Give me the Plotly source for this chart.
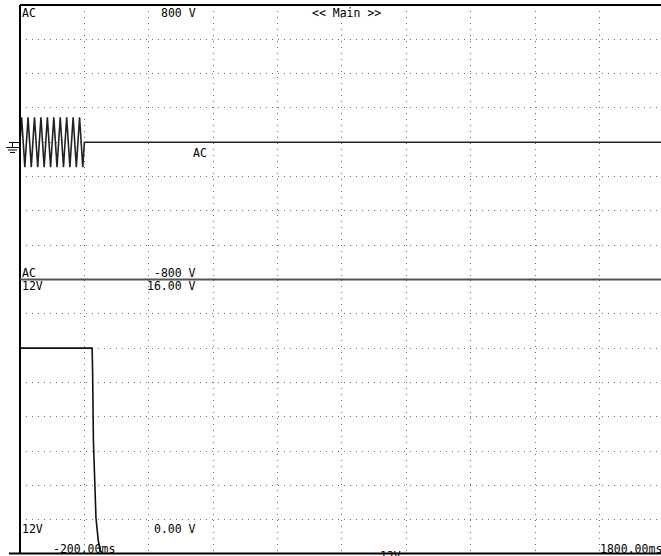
import plotly.graph_objects as go

# ---------------- data ----------------
# Channel 1 (AC, -800..800 V), time in ms
ac_time = [-200, -195, -190, -185, -180, -175, -170, -165, -160, -155,
           -150, -145, -140, -135, -130, -125, -120, -115, -110, -105,
           -100, -95, -90, -85, -80, -75, -70, -65, -60, -55,
           -50, -45, -40, -35, -30, -25, -20, -15, -10, -5,
           0, 1800]
ac_volts = [0, 145, 0, -145, 0, 145, 0, -145, 0, 145,
            0, -145, 0, 145, 0, -145, 0, 145, 0, -145,
            0, 145, 0, -145, 0, 145, 0, -145, 0, 145,
            0, -145, 0, 145, 0, -145, 0, 145, 0, -145,
            0, 0]

# Channel 2 (12V, 0..16 V)
v12_time = [-200, 24, 25.5, 28, 36, 43, 49, 58, 1800]
v12_volts = [12, 12, 10.7, 6.6, 2.1, 0.8, 0.2, 0, 0]

x_range = [-200, 1791]
top_range = [-800, 800]
bot_range = [0, 16]

# ---------------- layout helpers ----------------
W, H = 661, 556
L, R, T, B = 20, 0, 5, 2
PW, PH = W - L - R, H - T - B


def px(x):
    return (x - L) / PW


def py(y):
    return (H - B - y) / PH


FONT = dict(family="DejaVu Sans Mono, Liberation Mono, monospace", size=11.5, color="#000000")
GRID = "#6e6e6e"

fig = go.Figure()
fig.add_trace(go.Scatter(x=ac_time, y=ac_volts, mode="lines",
                         line=dict(color="#222222", width=1.6),
                         xaxis="x", yaxis="y", showlegend=False, hoverinfo="skip"))
fig.add_trace(go.Scatter(x=v12_time, y=v12_volts, mode="lines",
                         line=dict(color="#111111", width=1.6),
                         xaxis="x2", yaxis="y2", showlegend=False, hoverinfo="skip"))

xcommon = dict(range=x_range, showticklabels=False, ticks="", showline=False,
               zeroline=False, showgrid=True, gridcolor=GRID, gridwidth=1,
               griddash="1px,5px", tick0=-200, dtick=200)
ycommon = dict(showticklabels=False, ticks="", showline=False, zeroline=False,
               showgrid=True, gridcolor=GRID, gridwidth=1, griddash="1px,5px")

fig.update_layout(
    width=W, height=H,
    margin=dict(l=L, r=R, t=T, b=B, pad=0),
    paper_bgcolor="white", plot_bgcolor="white",
    xaxis=dict(domain=[0, 1], anchor="y", **xcommon),
    yaxis=dict(domain=[0.5, 1], anchor="x", range=top_range, dtick=200, tick0=-800, **ycommon),
    xaxis2=dict(domain=[0, 1], anchor="y2", **xcommon),
    yaxis2=dict(domain=[0, 0.5], anchor="x2", range=bot_range, dtick=2, tick0=0, **ycommon),
)

shapes = []


def seg(x0, y0, x1, y1, color="#000000", width=2):
    shapes.append(dict(type="line", xref="paper", yref="paper",
                       x0=px(x0), y0=py(y0), x1=px(x1), y1=py(y1),
                       line=dict(color=color, width=width)))


# frame lines
seg(20, 5, 661, 5, "#000000", 2)          # top
seg(20, 5, 20, 554, "#000000", 2)         # left
seg(20, 279.5, 661, 279.5, "#555555", 2)  # separator
seg(9, 553.5, 661, 553.5, "#000000", 2)   # bottom

# ground symbol
seg(9, 142.5, 20, 142.5, "#000000", 1)
seg(12.5, 142.5, 12.5, 147.5, "#000000", 1)
seg(6, 147.5, 19, 147.5, "#000000", 1)
seg(8, 150, 17, 150, "#000000", 1)
seg(10, 152.5, 15, 152.5, "#000000", 1)

fig.update_layout(shapes=shapes)

annotations = []


def txt(s, x, y, anchor="left"):
    annotations.append(dict(text=s, xref="paper", yref="paper", x=px(x), y=py(y),
                            xanchor=anchor, yanchor="middle", showarrow=False,
                            font=FONT, borderpad=0))


txt("AC", 21, 12.5)
txt("800 V", 197, 12.5, "right")
txt("&lt;&lt; Main &gt;&gt;", 311, 12.5)
txt("AC", 208, 153.5, "right")
txt("AC", 21, 273)
txt("-800 V", 197, 273, "right")
txt("12V", 21, 285.5)
txt("16.00 V", 197, 285.5, "right")
txt("12V", 21, 529)
txt("0.00 V", 197, 529, "right")
txt("-200.00ms", 52, 548.5)
txt("12V", 379, 556)
txt("1800.00ms", 663, 548.5, "right")

fig.update_layout(annotations=annotations)

fig.write_html(
    "out.html",
    config={"displayModeBar": False, "staticPlot": True},
    post_script="document.body.style.margin='0';document.body.style.overflow='hidden';",
)
